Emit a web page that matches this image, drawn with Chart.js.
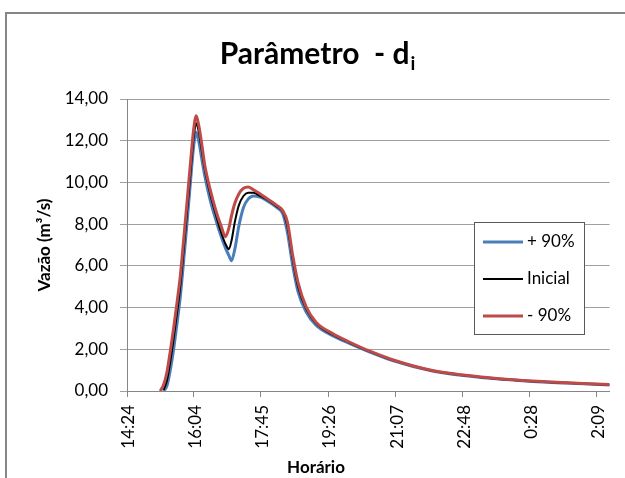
<!DOCTYPE html>
<html>
<head>
<meta charset="utf-8">
<script src="https://cdn.jsdelivr.net/npm/chart.js@4.4.1/dist/chart.umd.min.js"></script>
<style>
  body { margin: 0; background: #fff; overflow: hidden; }
  #frame { position: absolute; left: 5px; top: 12px; width: 700px; height: 600px; border: 2px solid #868686; }
  canvas { position: absolute; left: 0; top: 0; }
</style>
</head>
<body>
<div id="frame"></div>
<canvas id="chart" width="625" height="478"></canvas>
<script>
// tempo em minutos depois de 14:24 (inicio do eixo)
const tempo = [50, 55, 60, 65, 70, 75, 80, 85, 90, 95, 100, 104, 108, 112, 117, 125, 134, 141, 148, 153, 157, 162, 168, 175, 182, 190, 200, 214, 225, 234, 241, 249, 257, 269, 284, 309, 334, 364, 399, 459, 509, 559, 609, 659, 725];

// vazao (m3/s)
const mais90 = [null, 0.0, 0.25, 1.0, 2.0, 3.2, 4.5, 6.2, 8.0, 9.9, 11.7, 12.4, 11.95, 11.2, 10.3, 9.15, 8.15, 7.45, 6.85, 6.5, 6.25, 6.8, 7.9, 8.8, 9.2, 9.35, 9.3, 9.05, 8.8, 8.5, 7.6, 6.0, 4.75, 3.8, 3.15, 2.65, 2.28, 1.88, 1.46, 0.96, 0.73, 0.57, 0.46, 0.38, 0.29];
const inicial = [null, 0.05, 0.5, 1.4, 2.5, 3.7, 5.0, 6.7, 8.5, 10.3, 12.1, 12.84, 12.4, 11.6, 10.6, 9.45, 8.4, 7.65, 7.05, 6.8, 7.2, 8.1, 8.9, 9.35, 9.5, 9.5, 9.35, 9.1, 8.85, 8.6, 7.9, 6.3, 5.0, 3.95, 3.25, 2.7, 2.32, 1.9, 1.48, 0.97, 0.74, 0.58, 0.47, 0.39, 0.30];
const menos90 = [0.0, 0.3, 0.9, 1.9, 3.0, 4.2, 5.5, 7.2, 9.0, 10.8, 12.5, 13.2, 12.7, 11.9, 10.8, 9.65, 8.6, 7.95, 7.4, 7.8, 8.4, 9.0, 9.45, 9.72, 9.78, 9.65, 9.45, 9.15, 8.9, 8.65, 8.1, 6.5, 5.2, 4.05, 3.3, 2.75, 2.35, 1.92, 1.5, 0.98, 0.75, 0.59, 0.48, 0.40, 0.31];

const nomes = ["+ 90%", "Inicial", "- 90%"];
const horarios = ["14:24", "16:04", "17:45", "19:26", "21:07", "22:48", "0:28", "2:09"];

const inicioMin = 14 * 60 + 24;

function paraOffset(h) {
  const [hh, mm] = h.split(":").map(Number);
  return (hh * 60 + mm - inicioMin + 1440) % 1440;
}

function formataHora(v) {
  const t = (inicioMin + Math.round(v)) % 1440;
  const m = t % 60;
  return Math.floor(t / 60) + ":" + (m < 10 ? "0" : "") + m;
}

function pontos(valores) {
  return tempo.map((t, i) => ({ x: t, y: valores[i] }));
}

Chart.defaults.font.family = "Lato";
Chart.defaults.font.size = 17;
Chart.defaults.color = "#000";

// titulo com subscrito, titulo do eixo x e legenda
const extras = {
  id: "extras",
  afterDraw(chart) {
    const ctx = chart.ctx;
    ctx.save();

    // titulo
    const txt = "Parâmetro  - d";
    ctx.font = "bold 30px Lato";
    const w1 = ctx.measureText(txt).width;
    ctx.font = "bold 19px Lato";
    const w2 = ctx.measureText("i").width;
    const x0 = 317 - (w1 + w2) / 2;
    ctx.fillStyle = "#000";
    ctx.textBaseline = "alphabetic";
    ctx.textAlign = "left";
    ctx.font = "bold 30px Lato";
    ctx.fillText(txt, x0, 64);
    ctx.font = "bold 19px Lato";
    ctx.fillText("i", x0 + w1 + 1, 70);

    // titulo do eixo x
    ctx.font = "bold 17px Lato";
    ctx.textAlign = "center";
    ctx.textBaseline = "middle";
    ctx.fillText("Horário", 316, 468);

    // legenda
    ctx.fillStyle = "#fff";
    ctx.fillRect(474, 222, 110, 112);
    ctx.strokeStyle = "#595959";
    ctx.lineWidth = 1;
    ctx.strokeRect(474.5, 222.5, 110, 112);
    ctx.font = "17px Lato";
    ctx.textAlign = "left";
    chart.data.datasets.forEach((ds, i) => {
      const y = 242 + i * 37;
      ctx.strokeStyle = ds.borderColor;
      ctx.lineWidth = ds.borderWidth;
      ctx.beginPath();
      ctx.moveTo(483, y);
      ctx.lineTo(523, y);
      ctx.stroke();
      ctx.fillStyle = "#000";
      ctx.fillText(ds.label, 527, y);
    });
    ctx.restore();
  }
};

new Chart(document.getElementById("chart"), {
  type: "line",
  data: {
    datasets: [
      { label: nomes[0], data: pontos(mais90), borderColor: "#4a7ebb", borderWidth: 3, order: 2 },
      { label: nomes[1], data: pontos(inicial), borderColor: "#000000", borderWidth: 2, order: 1 },
      { label: nomes[2], data: pontos(menos90), borderColor: "#be4b48", borderWidth: 3, order: 0 },
    ],
  },
  options: {
    responsive: false,
    animation: false,
    layout: { padding: { left: 0, top: 99, right: 13, bottom: 0 } },
    elements: {
      point: { radius: 0 },
      line: { cubicInterpolationMode: "monotone", fill: false },
    },
    plugins: {
      legend: { display: false },
      title: { display: false },
      tooltip: { enabled: false },
    },
    scales: {
      x: {
        type: "linear",
        min: 0,
        max: 725,
        afterBuildTicks: (scale) => {
          scale.ticks = horarios.map((h) => ({ value: paraOffset(h) }));
        },
        afterFit: (scale) => { scale.height = 87; },
        ticks: {
          minRotation: 90,
          maxRotation: 90,
          autoSkip: false,
          padding: 8,
          labelOffset: 2,
          callback: (v) => formataHora(v),
        },
        grid: { drawOnChartArea: false, drawTicks: true, tickLength: 6, color: "#868686" },
        border: { display: true, color: "#868686" },
      },
      y: {
        min: 0,
        max: 14,
        afterFit: (scale) => { scale.width = 127; },
        ticks: {
          stepSize: 2,
          padding: 12,
          callback: (v) => v.toFixed(2).replace(".", ","),
        },
        grid: { color: "#a0a0a0", tickLength: 7 },
        border: { display: true, color: "#868686" },
        title: {
          display: true,
          text: "Vazão (m³/s)",
          font: { weight: "bold", size: 17 },
          padding: { top: 34, bottom: 0 },
        },
      },
    },
  },
  plugins: [extras],
});
</script>
</body>
</html>
